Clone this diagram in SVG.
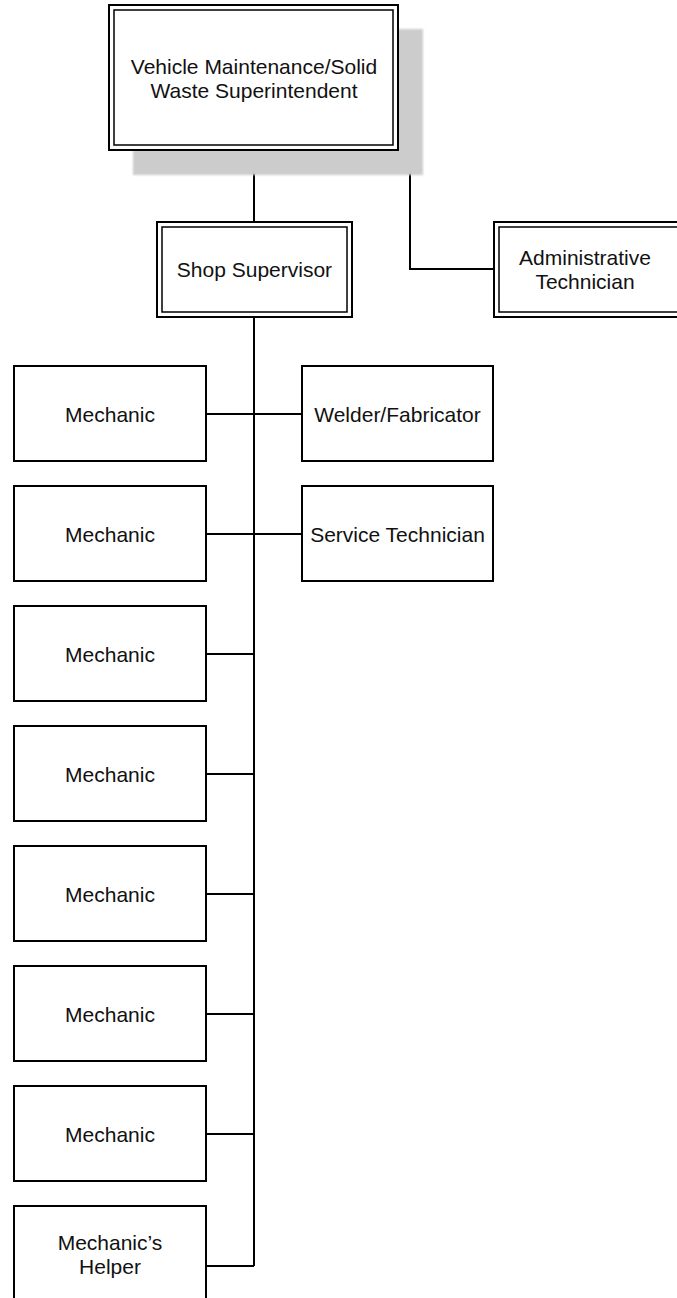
<svg xmlns="http://www.w3.org/2000/svg" width="677" height="1298" viewBox="0 0 677 1298">
<style>
.box{fill:#fff;stroke:#000;stroke-width:2}
.in{fill:none;stroke:#000;stroke-width:1.5}
.t{font-family:"Liberation Sans",Arial,sans-serif;font-size:21px;fill:#111;text-anchor:middle}
.c{fill:none;stroke:#000;stroke-width:2}
</style>
<defs>
<filter id="blur" x="-5%" y="-5%" width="110%" height="110%"><feGaussianBlur stdDeviation="1"/></filter>
</defs>
<rect width="677" height="1298" fill="#fff"/>
<g id="connectors">
<path class="c" d="M254,150 V222"/>
<path class="c" d="M398,78 H410 V269 H494"/>
<path class="c" d="M254,317 V1266"/>
<path class="c" d="M206,414 H302"/>
<path class="c" d="M206,534 H302"/>
<path class="c" d="M206,654 H254"/>
<path class="c" d="M206,774 H254"/>
<path class="c" d="M206,894 H254"/>
<path class="c" d="M206,1014 H254"/>
<path class="c" d="M206,1134 H254"/>
<path class="c" d="M206,1266 H254"/>
</g>
<g id="superintendent">
<rect x="133" y="29" width="290" height="146" fill="#cccccc" filter="url(#blur)"/>
<rect class="box" x="109" y="5" width="289" height="145"/>
<rect class="in" x="114" y="10" width="279" height="135"/>
<text class="t" x="254" y="74">Vehicle Maintenance/Solid</text>
<text class="t" x="254" y="97.5">Waste Superintendent</text>
</g>
<g id="shop-supervisor">
<rect class="box" x="157" y="222" width="195" height="95"/>
<rect class="in" x="162" y="227" width="185" height="85"/>
<text class="t" x="254.5" y="277">Shop Supervisor</text>
</g>
<g id="admin-tech">
<rect class="box" x="494" y="222" width="195" height="95"/>
<rect class="in" x="499" y="227" width="185" height="85"/>
<text class="t" x="585" y="265">Administrative</text>
<text class="t" x="585" y="289">Technician</text>
</g>
<g id="welder">
<rect class="box" x="302" y="366" width="191" height="95"/>
<text class="t" x="397.5" y="421.5">Welder/Fabricator</text>
</g>
<g id="service-tech">
<rect class="box" x="302" y="486" width="191" height="95"/>
<text class="t" x="397.5" y="541.5">Service Technician</text>
</g>
<g id="mechanic-1">
<rect class="box" x="14" y="366" width="192" height="95"/>
<text class="t" x="110" y="421.5">Mechanic</text>
</g>
<g id="mechanic-2">
<rect class="box" x="14" y="486" width="192" height="95"/>
<text class="t" x="110" y="541.5">Mechanic</text>
</g>
<g id="mechanic-3">
<rect class="box" x="14" y="606" width="192" height="95"/>
<text class="t" x="110" y="661.5">Mechanic</text>
</g>
<g id="mechanic-4">
<rect class="box" x="14" y="726" width="192" height="95"/>
<text class="t" x="110" y="781.5">Mechanic</text>
</g>
<g id="mechanic-5">
<rect class="box" x="14" y="846" width="192" height="95"/>
<text class="t" x="110" y="901.5">Mechanic</text>
</g>
<g id="mechanic-6">
<rect class="box" x="14" y="966" width="192" height="95"/>
<text class="t" x="110" y="1021.5">Mechanic</text>
</g>
<g id="mechanic-7">
<rect class="box" x="14" y="1086" width="192" height="95"/>
<text class="t" x="110" y="1141.5">Mechanic</text>
</g>
<g id="mechanics-helper">
<rect class="box" x="14" y="1206" width="192" height="120"/>
<text class="t" x="110" y="1250">Mechanic’s</text>
<text class="t" x="110" y="1274">Helper</text>
</g>
</svg>
